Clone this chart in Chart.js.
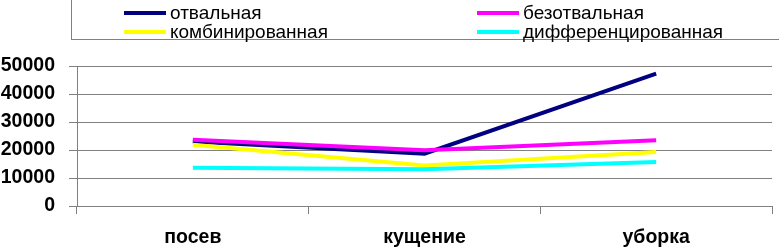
<!DOCTYPE html>
<html>
<head>
<meta charset="utf-8">
<script src="https://cdn.jsdelivr.net/npm/chart.js@4"></script>
<style>
  html, body { margin: 0; padding: 0; background: #fff; }
  #wrap { position: relative; width: 779px; height: 247px; overflow: hidden; }
  #chart { position: absolute; left: 0; top: 0; }
  #legend {
    position: absolute; left: 71px; top: -1px; width: 800px; height: 41px;
    border: 1px solid #808080; box-sizing: border-box;
    font-family: "Liberation Sans", Arial, sans-serif; font-size: 19px; color: #000;
  }
  .item { position: absolute; height: 20px; line-height: 20px; }
  .item i { position: absolute; left: 0; top: 8px; width: 42px; height: 4px; }
  .item span { position: absolute; left: 46px; top: 0; white-space: nowrap; }
</style>
</head>
<body>
<div id="wrap">
  <canvas id="chart" width="779" height="247"></canvas>
  <div id="legend"></div>
</div>
<script>
const categories = ['посев', 'кущение', 'уборка'];
const seriesNames = ['отвальная', 'безотвальная', 'комбинированная', 'дифференцированная'];
const otvalnaya = [23000, 18700, 47300];
const bezotvalnaya = [23700, 19900, 23500];
const kombinirovannaya = [21900, 14500, 19300];
const differencirovannaya = [13700, 13100, 15700];
const yTicks = [0, 10000, 20000, 30000, 40000, 50000];

const colors = ['#000080', '#FF00FF', '#FFFF00', '#00FFFF'];
const values = [otvalnaya, bezotvalnaya, kombinirovannaya, differencirovannaya];

// legend drawn as html, laid out like the old excel box
const legendPos = [[52, 3], [405, 3], [52, 22], [405, 22]];
const legendEl = document.getElementById('legend');
seriesNames.forEach((name, i) => {
  const item = document.createElement('div');
  item.className = 'item';
  item.style.left = legendPos[i][0] + 'px';
  item.style.top = legendPos[i][1] + 'px';
  item.innerHTML = `<i style="background:${colors[i]}"></i><span>${name}</span>`;
  legendEl.appendChild(item);
});

const gray = '#808080';
const tickFont = { family: '"Liberation Sans", Arial, sans-serif', size: 19.5, weight: 'bold' };

new Chart(document.getElementById('chart').getContext('2d'), {
  type: 'line',
  data: {
    labels: categories,
    datasets: seriesNames.map((name, i) => ({
      label: name,
      data: values[i],
      borderColor: colors[i],
      backgroundColor: colors[i],
      borderWidth: 4,
      pointRadius: 0,
      tension: 0,
      order: 3 - i
    }))
  },
  options: {
    responsive: false,
    animation: false,
    layout: { padding: { top: 66, right: 7, left: 0, bottom: 0 } },
    plugins: { legend: { display: false }, tooltip: { enabled: false } },
    scales: {
      x: {
        offset: true,
        grid: {
          offset: true,
          color: ctx => ctx.index === categories.length ? gray : 'rgba(0,0,0,0)',
          tickColor: gray,
          tickLength: 8
        },
        border: { color: gray },
        ticks: { font: tickFont, color: '#000', padding: 12, maxRotation: 0 },
        afterFit: scale => { scale.height = 41; }
      },
      y: {
        min: 0,
        max: 50000,
        afterBuildTicks: scale => { scale.ticks = yTicks.map(v => ({ value: v })); },
        grid: { color: gray, tickColor: gray, tickLength: 8 },
        border: { color: gray },
        ticks: { font: tickFont, color: '#000', padding: 14, callback: v => String(v) },
        afterFit: scale => { scale.width = 77; }
      }
    }
  }
});
</script>
</body>
</html>
